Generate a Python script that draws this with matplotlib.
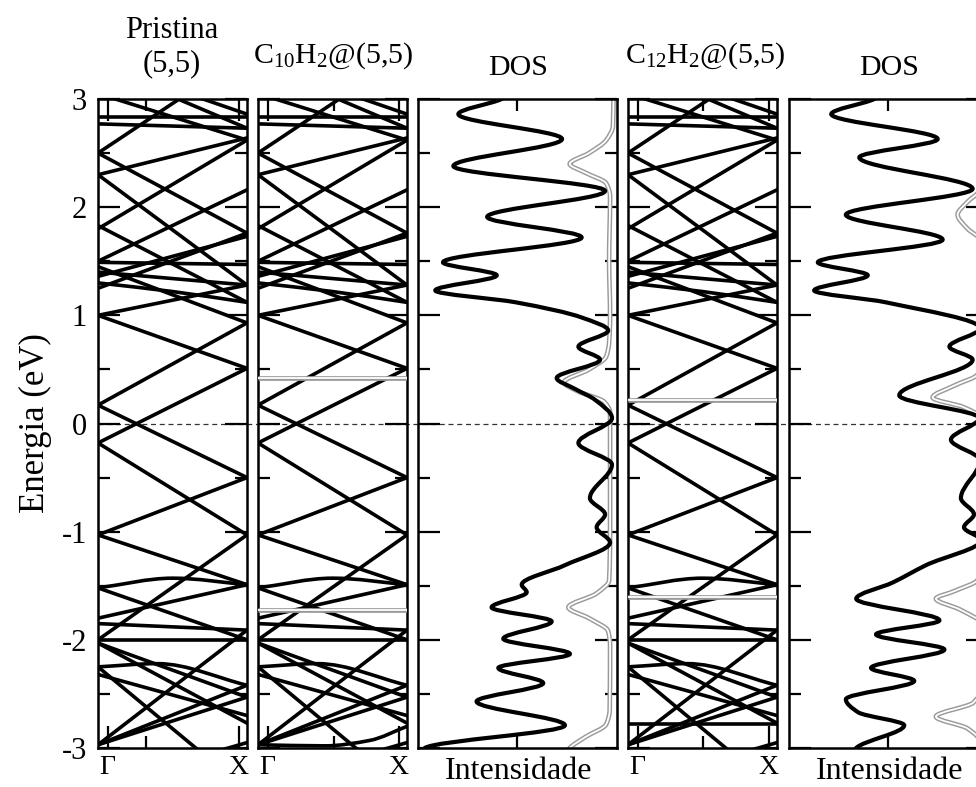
import matplotlib
matplotlib.use('Agg')
import matplotlib.pyplot as plt
import numpy as np
from matplotlib.path import Path
from matplotlib.patches import PathPatch
from matplotlib.transforms import blended_transform_factory
from matplotlib.lines import Line2D

plt.rcParams['font.family'] = ['Liberation Serif', 'DejaVu Serif']
plt.rcParams['mathtext.fontset'] = 'custom'
plt.rcParams['mathtext.rm'] = 'Liberation Serif'
plt.rcParams['mathtext.it'] = 'Liberation Serif'
plt.rcParams['mathtext.default'] = 'regular'

# ---------------- data ----------------
TITLES = ['Pristina\n(5,5)', r'C$_{10}$H$_2$@(5,5)', 'DOS', r'C$_{12}$H$_2$@(5,5)', 'DOS']
Y_TICKS = [-3, -2, -1, 0, 1, 2, 3]
Y_TICK_LABELS = ['-3', '-2', '-1', '0', '1', '2', '3']
K_LABELS = ['\u0393', 'X']
K_LABEL_POS = [0.065, 0.945]

# bands as lists of (k, E) points, k: 0 = Gamma side, 1 = X side
PRISTINE_BANDS = [
    [(0, 1.00), (1, 0.51)], [(0, -0.18), (1, 0.51)], [(0, 0.17), (1, 0.93)],
    [(0, 0.17), (1, -0.50)], [(0, 1.00), (1, 1.28)], [(0, 1.45), (1, 0.93)],
    [(0, 1.25), (1, 1.76)], [(0, 1.30), (0.5, 1.22), (1, 1.12)], [(0, 1.36), (1, 1.73)],
    [(0, 1.40), (1, 1.28)], [(0, 1.49), (1, 1.47)], [(0, 1.50), (1, 2.16)],
    [(0, 1.83), (1, 1.12)], [(0, 1.80), (1, 2.62)], [(0, 2.30), (1, 1.28)],
    [(0, 2.30), (1, 2.64)], [(0, 2.50), (1, 1.76)], [(0, 2.50), (0.6, 3.05)],
    [(0, 2.77), (1, 2.73)], [(0, 2.83), (1, 2.83)], [(0, 3.05), (1, 2.62)],
    [(0.45, 3.05), (1, 2.73)], [(0.6, 3.05), (1, 2.86)],
    [(0, -0.18), (1, -1.03)], [(0, -1.03), (1, -0.50)], [(0, -1.03), (1, -1.49)],
    [(0, -2.00), (1, -1.03)], [(0, -1.52), (0.5, -1.43), (1, -1.49)],
    [(0, -1.52), (1, -2.00)], [(0, -1.80), (1, -1.49)], [(0, -1.85), (1, -1.91)],
    [(0, -2.00), (1, -2.00)], [(0, -2.03), (1, -2.77)], [(0, -2.03), (1, -2.53)],
    [(0, -2.25), (0.4, -2.22), (1, -2.42)], [(0, -2.32), (1, -2.70)],
    [(0, -2.97), (1, -2.42)], [(0, -2.97), (1, -1.91)], [(0, -2.97), (1, -2.53)],
    [(0, -2.25), (0.7, -3.05)], [(0.75, -3.05), (1, -2.95)],
]
C10_EXTRA_BANDS = [[(0, -2.97), (0.45, -2.98), (0.75, -2.93), (1, -2.80)]]
C10_GRAY_BANDS = [[(0, 0.42), (1, 0.42)], [(0, -1.72), (1, -1.72)]]
C12_EXTRA_BANDS = [[(0, -2.78), (1, -2.78)]]
C12_GRAY_BANDS = [[(0, 0.22), (1, 0.22)], [(0, -1.60), (1, -1.60)]]

# DOS (E, intensity) - intensity grows to the left
DOS1_E = [3.05, 3.0, 2.86, 2.63, 2.38, 2.15, 1.91, 1.72, 1.49, 1.37, 1.23, 1.12, 0.98, 0.86,
          0.71, 0.59, 0.42, 0.32, 0.22, 0.05, -0.18, -0.38, -0.69, -0.84, -0.96, -1.10,
          -1.31, -1.49, -1.56, -1.70, -1.83, -1.99, -2.13, -2.26, -2.40, -2.57, -2.79, -3.0, -3.05]
DOS1_I = [53, 57.5, 80, 26, 82.6, 3.6, 65, 15.8, 88, 60, 92, 50, 15.8, 2,
          17.5, 6.2, 28.8, 19.3, 8.9, 0, 17.5, 0, 11.5, 3.6, 8, 1,
          24.5, 47, 44.4, 62.7, 31.4, 56.6, 21.9, 59.2, 35.8, 70.5, 24.5, 97.4, 100]
DOS1_GRAY_E = [3.05, 2.75, 2.62, 2.50, 2.40, 2.32, 2.22, 2.10, 1.5, 1.0, 0.75, 0.62, 0.50,
               0.38, 0.30, 0.20, 0.10, -1.0, -1.45, -1.57, -1.70, -1.80, -1.92, -2.05,
               -2.65, -2.78, -2.90, -3.0, -3.05]
DOS1_GRAY_I = [-0.8, -0.5, 3, 12, 22, 14, 3, 1.0, 1.5, 1.0, 1.5, 3, 12,
               25, 18, 4, 1.0, 1.0, 1.5, 8, 22.7, 12, 2, 1.0,
               1.2, 3, 14, 22, 24]
DOS2_E = [3.05, 3.0, 2.86, 2.63, 2.46, 2.17, 1.93, 1.70, 1.49, 1.37, 1.23, 1.12, 0.88, 0.71,
          0.59, 0.26, 0.05, -0.15, -0.34, -0.69, -0.84, -0.96, -1.08, -1.31, -1.47, -1.62,
          -1.82, -1.95, -2.09, -2.26, -2.38, -2.55, -2.67, -2.79, -3.0, -3.05]
DOS2_I = [52, 56.6, 79, 23.6, 64.4, 5.4, 71.4, 21, 86, 60, 87.9, 50.5, 1.5, 17.5,
          5.4, 43.6, 2, 16.7, 1.5, 11.5, 4.7, 9.9, 1, 29.7, 47, 66,
          22.7, 55.7, 20.1, 58.3, 35.8, 71.4, 65, 41, 66, 68]
DOS2_GRAY_E = [3.05, 2.3, 2.15, 2.05, 1.93, 1.80, 1.70, 1.5, 0.55, 0.45, 0.35, 0.24, 0.15,
               0.05, -1.35, -1.45, -1.55, -1.62, -1.72, -1.85, -2.45, -2.58, -2.71, -2.82,
               -2.95, -3.05]
DOS2_GRAY_I = [0.5, 0.5, 2, 8, 13.2, 8, 1.5, 0.5, 0.5, 3, 15, 26.2, 10,
               1, 0.5, 3, 15, 24.5, 12, 1, 0.5, 5, 24.5, 8,
               1, 0.5]

# ---------------- helpers ----------------
def smooth_path(xs, ys):
    """Bezier path through the given points (monotone cubic tangents), x is the parameter."""
    x = np.asarray(xs, float)
    y = np.asarray(ys, float)
    n = len(x)
    if n == 2:
        return Path([(x[0], y[0]), (x[1], y[1])], [Path.MOVETO, Path.LINETO])
    h = np.diff(x)
    dl = np.diff(y) / h
    d = np.zeros(n)
    for i in range(1, n - 1):
        if dl[i - 1] * dl[i] <= 0:
            d[i] = 0.0
        else:
            w1 = 2 * h[i] + h[i - 1]
            w2 = h[i] + 2 * h[i - 1]
            d[i] = (w1 + w2) / (w1 / dl[i - 1] + w2 / dl[i])
    d[0] = dl[0]
    d[-1] = dl[-1]
    verts = [(x[0], y[0])]
    codes = [Path.MOVETO]
    for i in range(n - 1):
        verts += [(x[i] + h[i] / 3, y[i] + d[i] * h[i] / 3),
                  (x[i + 1] - h[i] / 3, y[i + 1] - d[i + 1] * h[i] / 3),
                  (x[i + 1], y[i + 1])]
        codes += [Path.CURVE4] * 3
    return Path(verts, codes)


def swap(path):
    return Path(path.vertices[:, ::-1], path.codes)


def draw_band(ax, pts, gray=False):
    k = [p[0] for p in pts]
    e = [p[1] for p in pts]
    p = smooth_path(k, e)
    if gray:
        ax.add_patch(PathPatch(p, fill=False, ec='#9a9a9a', lw=3.4, capstyle='butt', zorder=3))
        ax.add_patch(PathPatch(p, fill=False, ec='white', lw=1.3, capstyle='butt', zorder=3.1))
    else:
        ax.add_patch(PathPatch(p, fill=False, ec='black', lw=2.6, capstyle='round',
                               joinstyle='round', zorder=2))


def draw_dos(ax, E, I, gray=False):
    p = swap(smooth_path(E, I))
    if gray:
        ax.add_patch(PathPatch(p, fill=False, ec='#9a9a9a', lw=3.4, zorder=2))
        ax.add_patch(PathPatch(p, fill=False, ec='white', lw=1.3, zorder=2.1))
    else:
        ax.add_patch(PathPatch(p, fill=False, ec='black', lw=3.0, joinstyle='round', zorder=3))


# ---------------- figure ----------------
W, H = 976, 787
fig = plt.figure(figsize=(W / 100, H / 100), dpi=100)

def axes_px(x0, x1, y0=99, y1=748):
    return fig.add_axes([x0 / W, 1 - y1 / H, (x1 - x0) / W, (y1 - y0) / H], facecolor='none')

ax1 = axes_px(98, 247)
ax2 = axes_px(258, 407)
ax3 = axes_px(418, 617)
ax4 = axes_px(628, 777)
ax5 = axes_px(789, 988)
axes = [ax1, ax2, ax3, ax4, ax5]

for ax in axes:
    ax.set_ylim(-3, 3)
    for s in ax.spines.values():
        s.set_linewidth(1.8)
    ax.set_yticks(Y_TICKS)
    ax.set_yticks(np.arange(-2.5, 3, 1.0), minor=True)
    ax.tick_params(which='both', direction='in', left=True, right=True, top=True, bottom=True,
                   width=1.6, labelsize=22)
    ax.tick_params(which='major', length=16)
    ax.tick_params(which='minor', length=8.5)
    ax.tick_params(axis='y', labelleft=False)

ax1.set_yticklabels(Y_TICK_LABELS)
ax1.tick_params(axis='y', labelleft=True, pad=8)

band_minor = {ax1: 0.32, ax2: 0.51, ax4: 0.5}
for ax in (ax1, ax2, ax4):
    ax.set_xlim(0, 1)
    ax.set_xticks(K_LABEL_POS)
    ax.set_xticklabels(K_LABELS)
    ax.set_xticks([band_minor[ax]], minor=True)
    ax.tick_params(axis='x', labelsize=20, pad=5)

for ax in (ax3, ax5):
    ax.set_xlim(101, -2.6)
    ax.set_xticks([])
    ax.set_xticks([49.5], minor=True)

for b in PRISTINE_BANDS:
    draw_band(ax1, b)
for b in PRISTINE_BANDS + C10_EXTRA_BANDS:
    draw_band(ax2, b)
for b in C10_GRAY_BANDS:
    draw_band(ax2, b, gray=True)
for b in PRISTINE_BANDS + C12_EXTRA_BANDS:
    draw_band(ax4, b)
for b in C12_GRAY_BANDS:
    draw_band(ax4, b, gray=True)

draw_dos(ax3, DOS1_GRAY_E, DOS1_GRAY_I, gray=True)
draw_dos(ax3, DOS1_E, DOS1_I)
draw_dos(ax5, DOS2_GRAY_E, DOS2_GRAY_I, gray=True)
draw_dos(ax5, DOS2_E, DOS2_I)

# Fermi level dashed line across all panels
tr = blended_transform_factory(fig.transFigure, ax1.transData)
fig.add_artist(Line2D([98 / W, 1.0], [0, 0], transform=tr, color='#333333', lw=0.9,
                      linestyle=(0, (4, 3)), zorder=-1))

# titles
def ftext(xp, yp, s, size, **kw):
    fig.text(xp / W, 1 - yp / H, s, fontsize=size, ha='center', va='baseline', **kw)

ftext(172, 38, 'Pristina', 22)
ftext(172, 71, '(5,5)', 22)
ftext(333, 63, TITLES[1], 21.5)
ftext(518, 75, TITLES[2], 21.5)
ftext(705, 63, TITLES[3], 21.5)
ftext(889, 75, TITLES[4], 21.5)
ftext(519, 779, 'Intensidade', 23)
ftext(890, 779, 'Intensidade', 23)
fig.text(35 / W, 1 - 423 / H, 'Energia (eV)', fontsize=25, rotation=90, ha='center', va='center')

fig.savefig('out.png', dpi=100)
